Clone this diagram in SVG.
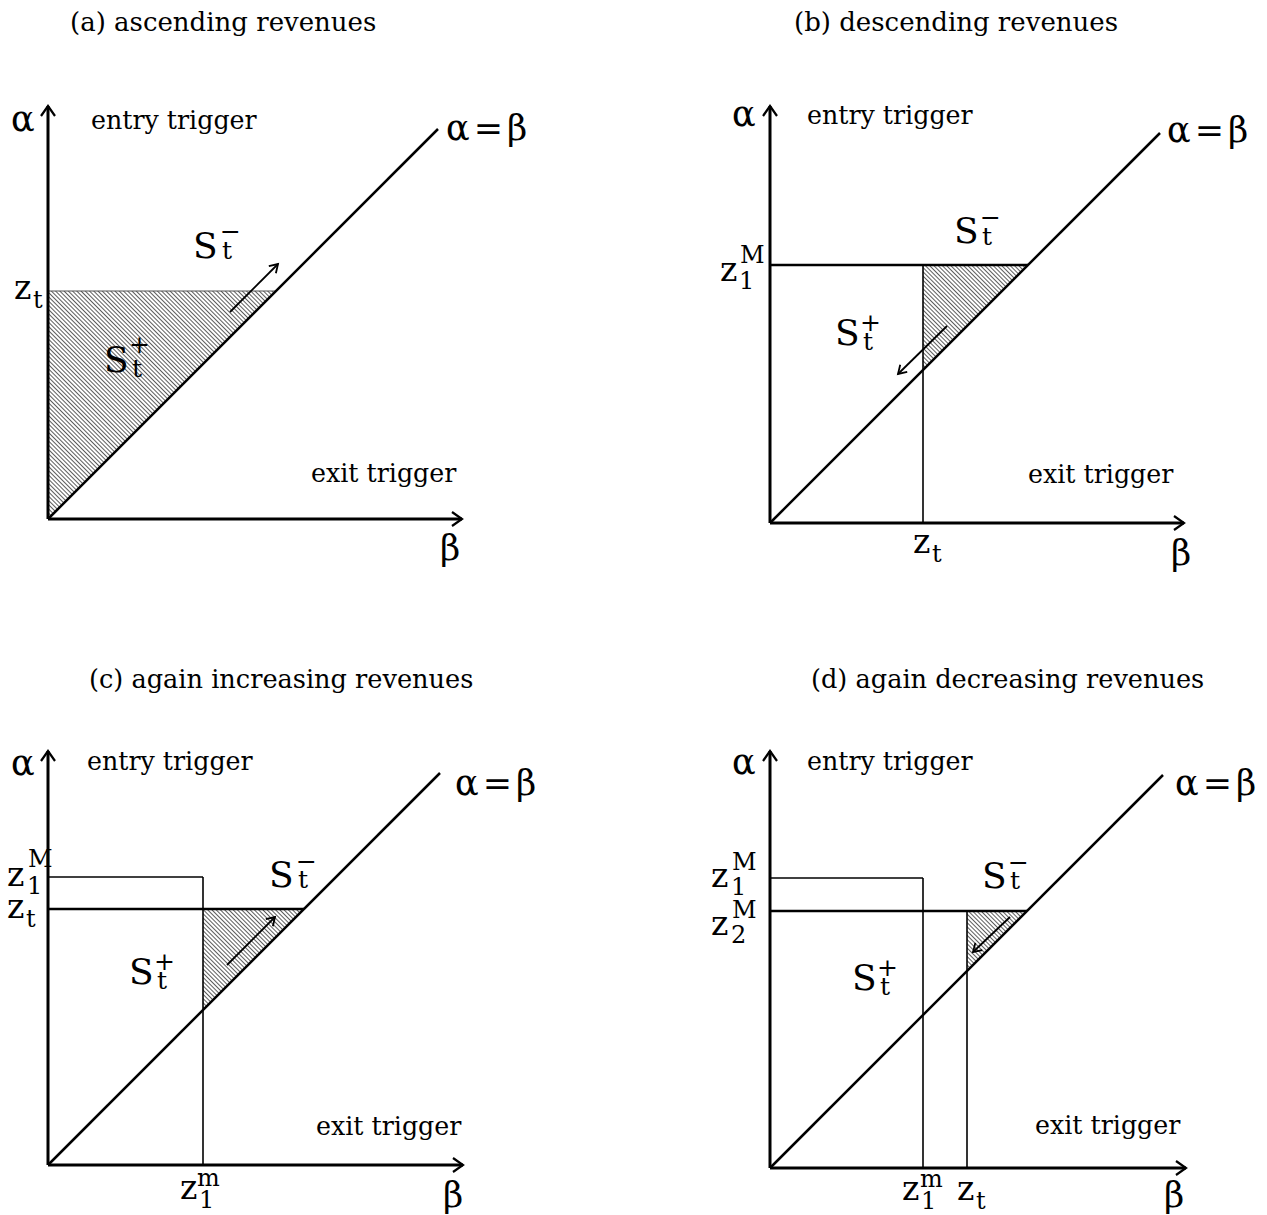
<svg xmlns="http://www.w3.org/2000/svg" width="1267" height="1215" viewBox="0 0 1267 1215">
<defs>
<pattern id="hatch" width="3" height="3" patternUnits="userSpaceOnUse" patternTransform="rotate(-45)">
<line x1="1.5" y1="0" x2="1.5" y2="3" stroke="#333" stroke-width="0.8"/>
</pattern>
<marker id="ax" markerUnits="userSpaceOnUse" markerWidth="16" markerHeight="18" refX="12" refY="8" orient="auto" viewBox="0 0 16 16">
<path d="M2,1 L12,8 L2,15" fill="none" stroke="#000" stroke-width="2.2"/>
</marker>
<marker id="sm" markerUnits="userSpaceOnUse" markerWidth="12" markerHeight="12" refX="9" refY="6" orient="auto" viewBox="0 0 12 12">
<path d="M1,1 L9,6 L1,11" fill="none" stroke="#000" stroke-width="1.8"/>
</marker>
</defs>
<style>
text{font-family:"DejaVu Serif","Liberation Serif",serif;fill:#000}
.title{font-size:26px}
.title2{font-size:25.6px}
.lab{font-size:25.3px}
.gr{font-size:35px}
.eq{font-size:35px;letter-spacing:4px}
.S{font-size:36px}
.sub{font-size:25px}
.zs{font-size:24px}
.z{font-size:33px}
.axis{stroke:#000;stroke-width:3;fill:none;marker-end:url(#ax)}
.diag{stroke:#000;stroke-width:2.5;fill:none}
.thick{stroke:#000;stroke-width:2.5;fill:none}
.thin{stroke:#000;stroke-width:1.6;fill:none}
.hair{stroke:#555;stroke-width:1;fill:none}
.mv{stroke:#000;stroke-width:1.8;fill:none;marker-end:url(#sm)}
.hatch{fill:url(#hatch);stroke:none}
</style>
<rect width="1267" height="1215" fill="#fff"/>

<g id="panel-a">
<text class="title" x="70" y="31">(a) ascending revenues</text>
<polygon class="hatch" points="48,291 276,291 48,519"/>
<line class="hair" x1="48" y1="291" x2="276" y2="291"/>
<line class="diag" x1="48" y1="519" x2="438" y2="129"/>
<line class="axis" x1="48" y1="519" x2="48" y2="106"/>
<line class="axis" x1="48" y1="519" x2="462" y2="519"/>
<line class="mv" x1="230" y1="312" x2="278" y2="264"/>
<text class="gr" x="11" y="131">α</text>
<text class="lab" x="91" y="129">entry trigger</text>
<text class="eq" x="446" y="140">α=β</text>
<text class="z" x="14" y="299">z<tspan class="zs" x="33" y="308">t</tspan></text>
<text class="S" x="193" y="258">S<tspan class="sub" x="222" y="259">t</tspan><tspan class="sub" x="220" y="240">−</tspan></text>
<text class="S" x="104" y="372">S<tspan class="sub" x="132" y="377">t</tspan><tspan class="sub" x="129" y="353">+</tspan></text>
<text class="lab" x="311" y="482">exit trigger</text>
<text class="gr" x="440" y="560">β</text>
</g>

<g id="panel-b">
<text class="title" x="794" y="31">(b) descending revenues</text>
<polygon class="hatch" points="923,265 1028,265 923,370"/>
<line class="thick" x1="770" y1="265" x2="1028" y2="265"/>
<line class="thin" x1="923" y1="265" x2="923" y2="523"/>
<line class="diag" x1="770" y1="523" x2="1160" y2="133"/>
<line class="axis" x1="770" y1="523" x2="770" y2="106"/>
<line class="axis" x1="770" y1="523" x2="1184" y2="523"/>
<line class="mv" x1="947" y1="326" x2="898" y2="374"/>
<text class="gr" x="732" y="126">α</text>
<text class="lab" x="807" y="124">entry trigger</text>
<text class="eq" x="1167" y="142">α=β</text>
<text class="S" x="954" y="243">S<tspan class="sub" x="982" y="245">t</tspan><tspan class="sub" x="980" y="226">−</tspan></text>
<text class="z" x="720" y="281">z<tspan class="zs" x="739" y="289">1</tspan><tspan class="zs" x="740" y="263">M</tspan></text>
<text class="S" x="835" y="345">S<tspan class="sub" x="863" y="350">t</tspan><tspan class="sub" x="860" y="331">+</tspan></text>
<text class="lab" x="1028" y="483">exit trigger</text>
<text class="z" x="913" y="553">z<tspan class="zs" x="932" y="562">t</tspan></text>
<text class="gr" x="1171" y="565">β</text>
</g>

<g id="panel-c">
<text class="title2" x="89" y="688">(c) again increasing revenues</text>
<polygon class="hatch" points="203,909 304,909 203,1010"/>
<line class="thin" x1="48" y1="877" x2="203" y2="877"/>
<line class="thin" x1="203" y1="877" x2="203" y2="1165"/>
<line class="thick" x1="48" y1="909" x2="304" y2="909"/>
<line class="diag" x1="48" y1="1165" x2="440" y2="773"/>
<line class="axis" x1="48" y1="1165" x2="48" y2="751"/>
<line class="axis" x1="48" y1="1165" x2="463" y2="1165"/>
<line class="mv" x1="227" y1="965" x2="275" y2="917"/>
<text class="gr" x="11" y="775">α</text>
<text class="lab" x="87" y="770">entry trigger</text>
<text class="eq" x="455" y="795">α=β</text>
<text class="z" x="7" y="886">z<tspan class="zs" x="27" y="894">1</tspan><tspan class="zs" x="28" y="867">M</tspan></text>
<text class="z" x="7" y="918">z<tspan class="zs" x="26" y="927">t</tspan></text>
<text class="S" x="269" y="887">S<tspan class="sub" x="298" y="888">t</tspan><tspan class="sub" x="296" y="870">−</tspan></text>
<text class="S" x="129" y="984">S<tspan class="sub" x="157" y="989">t</tspan><tspan class="sub" x="154" y="970">+</tspan></text>
<text class="lab" x="316" y="1135">exit trigger</text>
<text class="z" x="180" y="1199">z<tspan class="zs" x="199" y="1208">1</tspan><tspan class="zs" x="197" y="1186">m</tspan></text>
<text class="gr" x="443" y="1207">β</text>
</g>

<g id="panel-d">
<text class="title2" x="811" y="688">(d) again decreasing revenues</text>
<polygon class="hatch" points="967,911 1027,911 967,971"/>
<line class="thin" x1="770" y1="878" x2="923" y2="878"/>
<line class="thin" x1="923" y1="878" x2="923" y2="1168"/>
<line class="thin" x1="967" y1="911" x2="967" y2="1168"/>
<line class="thick" x1="770" y1="911" x2="1027" y2="911"/>
<line class="diag" x1="770" y1="1168" x2="1163" y2="775"/>
<line class="axis" x1="770" y1="1168" x2="770" y2="751"/>
<line class="axis" x1="770" y1="1168" x2="1186" y2="1168"/>
<line class="mv" x1="1010" y1="917" x2="973" y2="952"/>
<text class="gr" x="732" y="774">α</text>
<text class="lab" x="807" y="770">entry trigger</text>
<text class="eq" x="1175" y="795">α=β</text>
<text class="z" x="711" y="887">z<tspan class="zs" x="731" y="895">1</tspan><tspan class="zs" x="732" y="870">M</tspan></text>
<text class="z" x="711" y="935">z<tspan class="zs" x="731" y="943">2</tspan><tspan class="zs" x="732" y="918">M</tspan></text>
<text class="S" x="982" y="888">S<tspan class="sub" x="1010" y="889">t</tspan><tspan class="sub" x="1008" y="871">−</tspan></text>
<text class="S" x="852" y="990">S<tspan class="sub" x="880" y="995">t</tspan><tspan class="sub" x="877" y="976">+</tspan></text>
<text class="lab" x="1035" y="1134">exit trigger</text>
<text class="z" x="902" y="1200">z<tspan class="zs" x="921" y="1209">1</tspan><tspan class="zs" x="920" y="1187">m</tspan></text>
<text class="z" x="957" y="1200">z<tspan class="zs" x="976" y="1209">t</tspan></text>
<text class="gr" x="1164" y="1207">β</text>
</g>
</svg>
